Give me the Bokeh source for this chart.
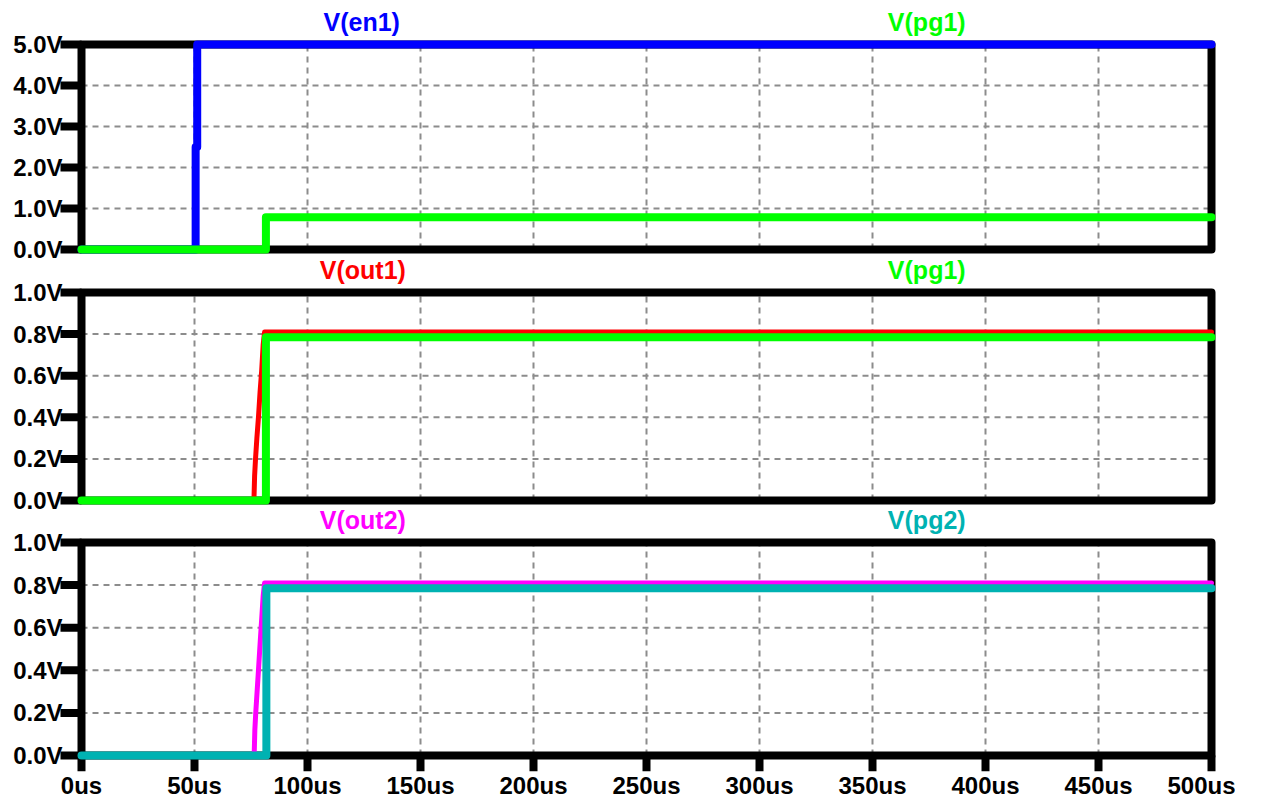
from bokeh.plotting import figure
from bokeh.models import FixedTicker, PrintfTickFormatter, Range1d
from bokeh.core.properties import value
from bokeh.embed import file_html
from bokeh.resources import INLINE

# ---------------- data ----------------
T_SPAN = [0, 500]                      # us
X_TICKS = [0, 50, 100, 150, 200, 250, 300, 350, 400, 450, 500]

V1_SPAN = [0.0, 5.0]
V1_TICKS = [0.0, 1.0, 2.0, 3.0, 4.0, 5.0]
V2_SPAN = [0.0, 1.0]
V2_TICKS = [0.0, 0.2, 0.4, 0.6, 0.8, 1.0]

en1_t = [0, 50.5, 50.5, 51.2, 51.2, 500]
en1_v = [0.0, 0.0, 2.5, 2.5, 5.0, 5.0]

pg1_t = [0, 81.6, 81.6, 500]
pg1_v = [0.0, 0.0, 0.785, 0.785]

out1_t = [0, 76.3, 76.6, 77.0, 77.6, 78.3, 79.0, 79.7, 80.4, 81.0, 500]
out1_v = [0.0, 0.0, 0.12, 0.2, 0.3, 0.4, 0.52, 0.62, 0.75, 0.81, 0.81]

pg2_t = [0, 81.8, 81.8, 500]
pg2_v = [0.0, 0.0, 0.785, 0.785]

out2_t = [0, 76.4, 76.7, 77.1, 77.7, 78.3, 79.0, 79.6, 80.4, 81.0, 500]
out2_v = [0.0, 0.0, 0.12, 0.2, 0.3, 0.4, 0.52, 0.62, 0.75, 0.81, 0.81]

# ---------------- style / layout ----------------
FONT = "Liberation Sans"
BLUE, GREEN, RED, MAGENTA, TEAL = "#0000FF", "#00FF00", "#FF0000", "#FF00FF", "#00B2B2"
GRID = "#8c8c8c"
BORDER_W = 8
TRACE_W = 8
FRAME_W = 1235
FRAME_H = 771
X0_PX = 81                              # pixel of t = 0
PX_PER_US = 1130 / (T_SPAN[1] - T_SPAN[0])
YTICK_PX = 21
XTICK_PX = 16

# pane: (range name, span, ticks, pixel row of 0 V, pixels per volt, traces, titles)
PANES = [
    ("p1", V1_SPAN, V1_TICKS, 249, 41.0,
     [(en1_t, en1_v, BLUE, TRACE_W), (pg1_t, pg1_v, GREEN, TRACE_W)],
     [(124, "V(en1)", BLUE), (374, "V(pg1)", GREEN)]),
    ("p2", V2_SPAN, V2_TICKS, 500, 208.0,
     [(out1_t, out1_v, RED, 5), (pg1_t, pg1_v, GREEN, TRACE_W)],
     [(124.5, "V(out1)", RED), (374, "V(pg1)", GREEN)]),
    ("p3", V2_SPAN, V2_TICKS, 755, 213.0,
     [(out2_t, out2_v, MAGENTA, 5), (pg2_t, pg2_v, TEAL, TRACE_W)],
     [(124.5, "V(out2)", MAGENTA), (374, "V(pg2)", TEAL)]),
]


def pane_range(zero_px, px_per_v):
    start = -(FRAME_H - zero_px) / px_per_v
    return Range1d(start, start + FRAME_H / px_per_v)


last = PANES[-1]
p = figure(
    frame_width=FRAME_W, frame_height=FRAME_H,
    min_border_left=0, min_border_right=0, min_border_top=0, min_border_bottom=0,
    x_range=Range1d(-X0_PX / PX_PER_US, (FRAME_W - X0_PX) / PX_PER_US),
    y_range=pane_range(last[3], last[4]),
    y_axis_location=None,
    output_backend="svg", toolbar_location=None,
)
p.outline_line_color = None
p.background_fill_color = "white"
p.border_fill_color = "white"
p.xgrid.visible = False
p.ygrid.visible = False

xa = p.xaxis[0]
xa.ticker = FixedTicker(ticks=X_TICKS)
xa.formatter = PrintfTickFormatter(format="%dus")
xa.axis_line_color = None
xa.major_tick_line_color = None
xa.major_tick_out = 0
xa.major_tick_in = 0
xa.minor_tick_line_color = None
xa.major_label_standoff = 0
xa.major_label_text_font = FONT
xa.major_label_text_font_style = "bold"
xa.major_label_text_font_size = "24px"
xa.major_label_text_color = "black"

for (name, span, ticks, zero_px, ppv, traces, titles) in PANES:
    if name != last[0]:
        p.extra_y_ranges[name] = pane_range(zero_px, ppv)
        rn = name
    else:
        rn = "default"

    # dashed grid inside the box
    n = len(X_TICKS)
    p.segment(x0=X_TICKS, x1=X_TICKS, y0=[span[0]] * n, y1=[span[1]] * n,
              y_range_name=rn, line_color=GRID, line_width=2, line_dash="6 5")
    m = len(ticks)
    p.segment(x0=[T_SPAN[0]] * m, x1=[T_SPAN[1]] * m, y0=ticks, y1=ticks,
              y_range_name=rn, line_color=GRID, line_width=2, line_dash="6 5")

    # box
    p.quad(left=[T_SPAN[0]], right=[T_SPAN[1]], bottom=[span[0]], top=[span[1]],
           y_range_name=rn, fill_color=None, line_color="black",
           line_width=BORDER_W, line_join="round")

    # y tick marks and labels
    p.segment(x0=[T_SPAN[0]] * m, x1=[T_SPAN[0] - YTICK_PX / PX_PER_US] * m,
              y0=ticks, y1=ticks, y_range_name=rn,
              line_color="black", line_width=BORDER_W)
    p.text(x=[T_SPAN[0]] * m, y=ticks, text=["%.1fV" % t for t in ticks],
           y_range_name=rn, x_offset=-19, text_align="right", text_baseline="middle",
           text_color="black", text_font=value(FONT), text_font_style="bold",
           text_font_size="24px")

    # time tick marks under the bottom pane
    if name == last[0]:
        p.segment(x0=X_TICKS, x1=X_TICKS, y0=[span[0]] * n,
                  y1=[span[0] - XTICK_PX / ppv] * n,
                  line_color="black", line_width=BORDER_W)

    # traces
    for (t, v, c, w) in traces:
        p.line(t, v, y_range_name=rn, line_color=c, line_width=w,
               line_join="round", line_cap="round")

    # trace names above the box
    for (xt, txt, c) in titles:
        p.text(x=[xt], y=[span[1]], text=[txt], y_range_name=rn, text_color=c,
               text_align="center", text_baseline="bottom", y_offset=-9,
               text_font=value(FONT), text_font_style="bold", text_font_size="25px")

with open("out.html", "w") as f:
    f.write(file_html(p, INLINE))
